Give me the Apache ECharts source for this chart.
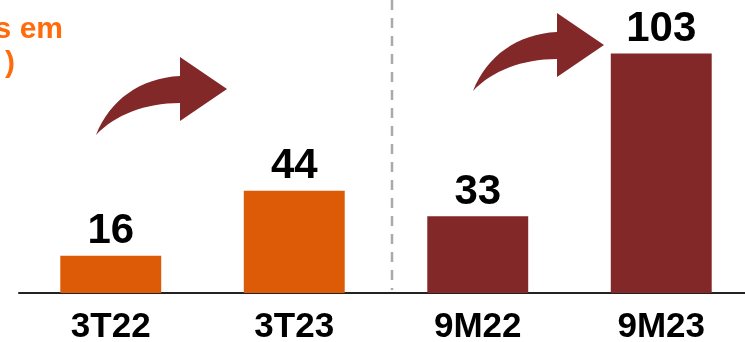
<!DOCTYPE html>
<html>
<head>
<meta charset="utf-8">
<script src="https://cdn.jsdelivr.net/npm/echarts@6/dist/echarts.min.js"></script>
<style>
  html, body { margin: 0; padding: 0; background: #fff; }
  #main { width: 745px; height: 342px; }
</style>
</head>
<body>
<div id="main"></div>
<script>
    'use strict';

    // data
    var categories = ['3T22', '3T23', '9M22', '9M23'];
    var values = [16, 44, 33, 103];
    var barColors = ['#DD5A06', '#DD5A06', '#822828', '#822828'];

    var myChart = echarts.init(document.getElementById('main'));

    // curved arrow shape, drawn relative to its tail
    var arrowPath = 'M 0 46 C 14 11, 44 -11, 84 -13 L 84 -32 L 131 0 L 84 32 L 84 14 C 49 14, 19 26, 0 46 Z';
    echarts.graphic.registerShape('curvedArrow', echarts.graphic.extendPath(arrowPath, {}));

    var option = {
        backgroundColor: '#fff',
        animation: false,
        grid: { left: 19, width: 734, top: 0, bottom: 49, outerBoundsMode: 'none', containLabel: false },
        xAxis: {
            type: 'category',
            data: categories,
            axisLine: { lineStyle: { color: '#222', width: 2 } },
            axisTick: { show: false },
            axisLabel: {
                color: '#000',
                fontFamily: 'Liberation Sans',
                fontWeight: 'bold',
                fontSize: 35,
                margin: 17
            },
            splitLine: { show: false }
        },
        yAxis: {
            type: 'value',
            min: 0,
            max: 126,
            show: false
        },
        series: [{
            type: 'bar',
            barWidth: '55%',
            data: values.map(function(v, i) {
                return { value: v, itemStyle: { color: barColors[i] } };
            }),
            label: {
                show: true,
                position: 'top',
                distance: 3,
                color: '#000',
                fontFamily: 'Liberation Sans',
                fontWeight: 'bold',
                fontSize: 42
            }
        }],
        graphic: [
            {
                type: 'line',
                shape: { x1: 392, y1: 0, x2: 392, y2: 290 },
                style: { stroke: '#aaa', lineWidth: 2.5, lineDash: [10, 8] }
            },
            {
                type: 'text',
                x: 63, y: 15,
                style: {
                    text: 'Resultados em',
                    align: 'right',
                    fill: '#FF6B0A',
                    font: 'bold 30px "Liberation Sans"'
                }
            },
            {
                type: 'text',
                x: 15, y: 49,
                style: {
                    text: '(R$ milhões )',
                    align: 'right',
                    fill: '#FF6B0A',
                    font: 'bold 30px "Liberation Sans"'
                }
            },
            {
                type: 'curvedArrow',
                x: 96, y: 89,
                style: { fill: '#822828' }
            },
            {
                type: 'curvedArrow',
                x: 473, y: 45,
                style: { fill: '#822828' }
            }
        ]
    };

    myChart.setOption(option);
</script>
</body>
</html>
